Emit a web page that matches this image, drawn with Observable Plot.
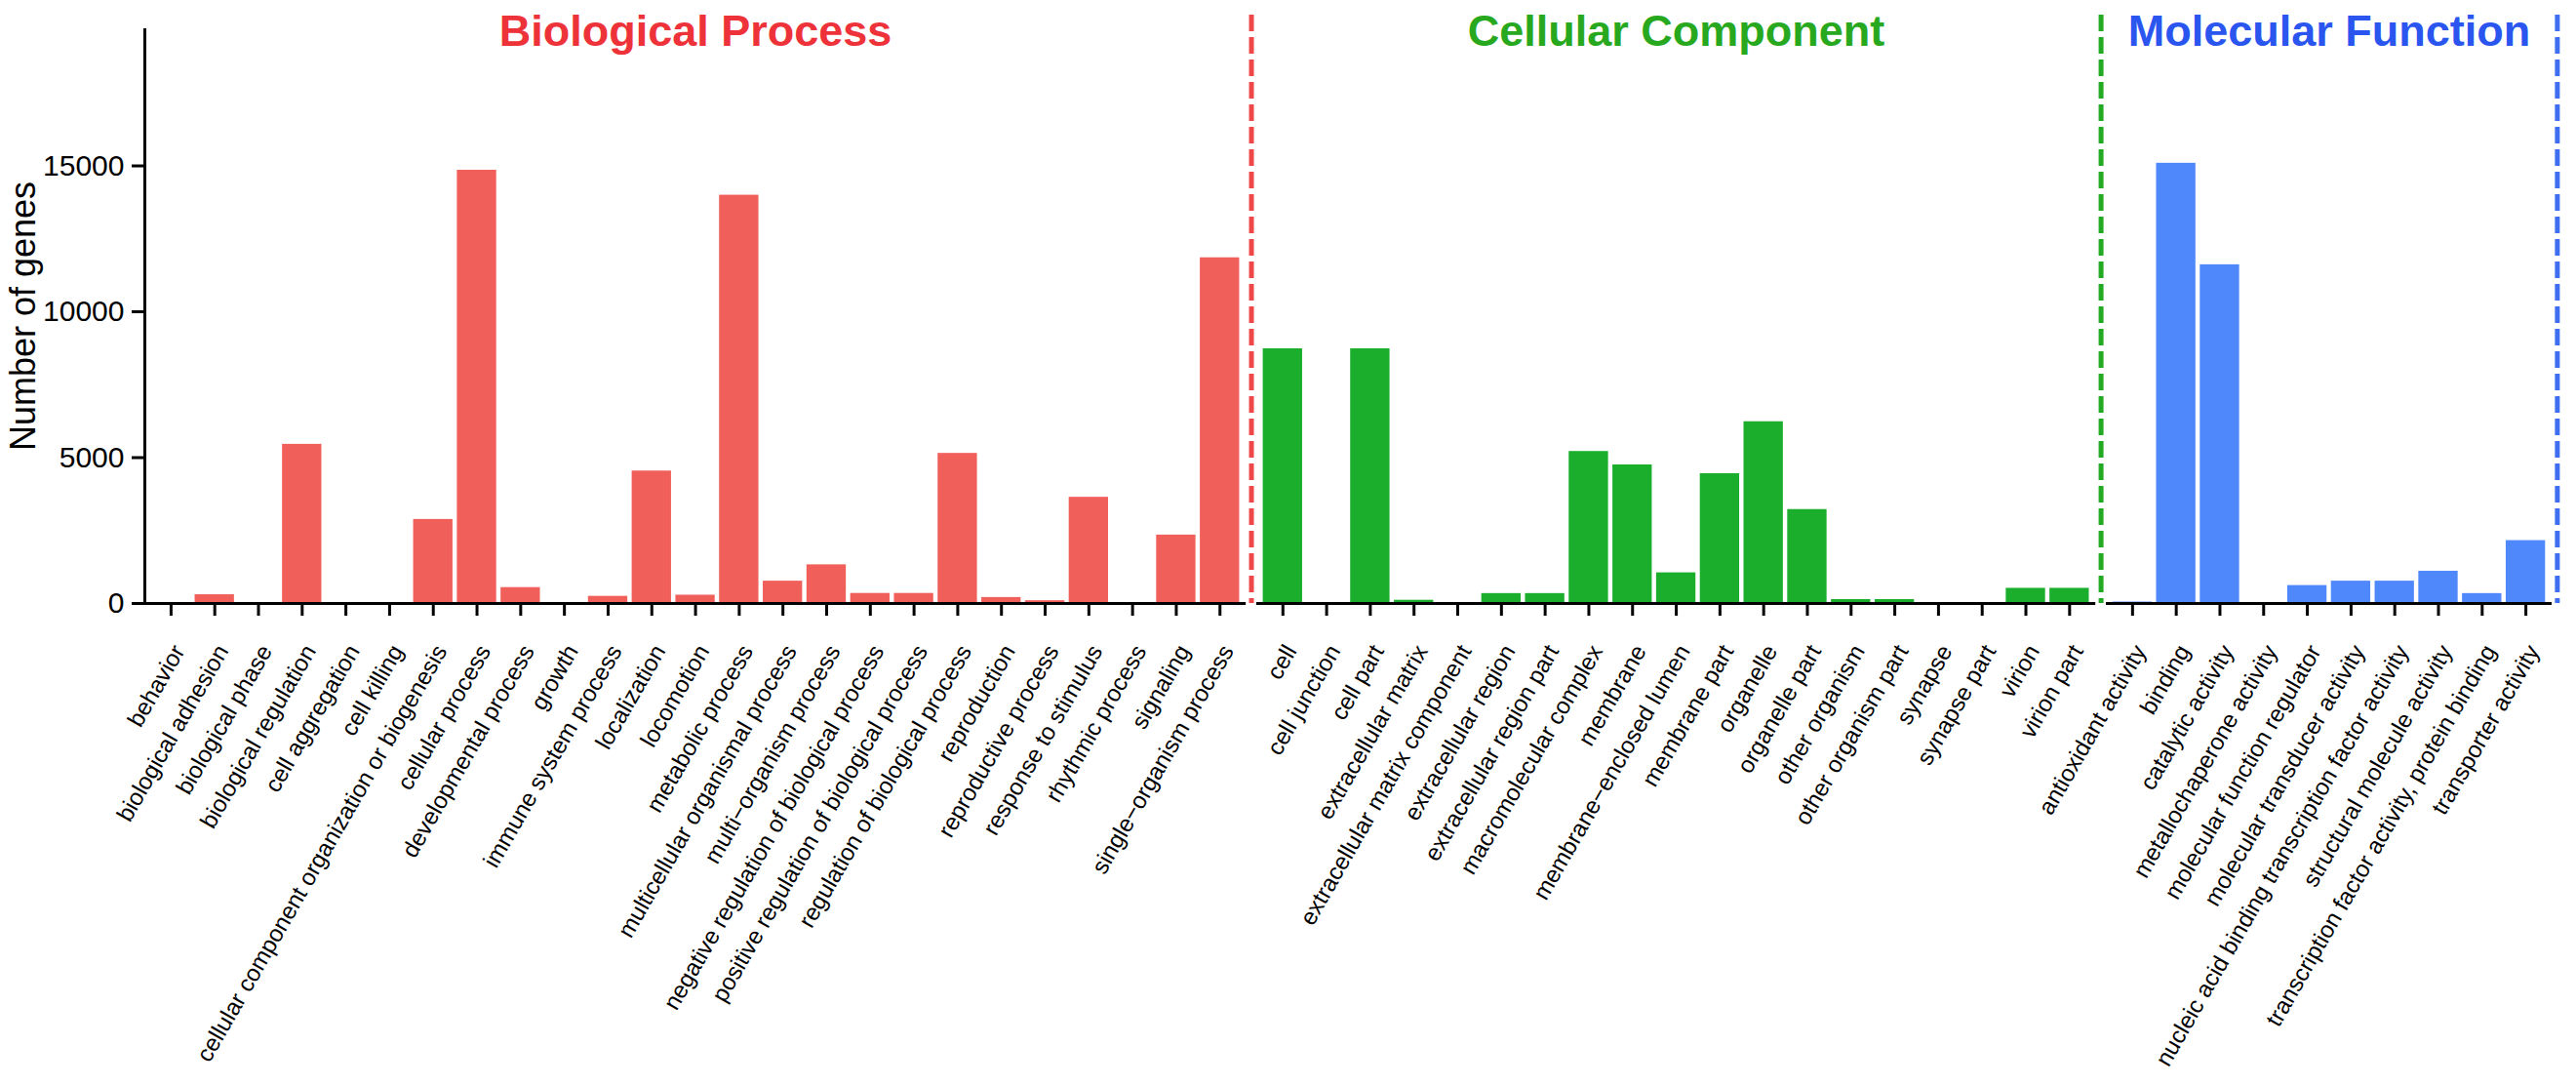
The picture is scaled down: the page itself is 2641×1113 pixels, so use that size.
<!DOCTYPE html>
<html><head><meta charset="utf-8">
<script src="https://cdn.jsdelivr.net/npm/d3@7"></script>
<script src="https://cdn.jsdelivr.net/npm/@observablehq/plot@0.6"></script>
<style>
html,body{margin:0;padding:0;background:#fff;}
#chart{width:2641px;height:1113px;overflow:hidden;}
</style></head><body><div id="chart"></div>
<script>
// ---- data ----
const bpNames = ["behavior","biological adhesion","biological phase","biological regulation","cell aggregation","cell killing","cellular component organization or biogenesis","cellular process","developmental process","growth","immune system process","localization","locomotion","metabolic process","multicellular organismal process","multi\u2212organism process","negative regulation of biological process","positive regulation of biological process","regulation of biological process","reproduction","reproductive process","response to stimulus","rhythmic process","signaling","single\u2212organism process"];
const bpValues = [10,300,10,5455,5,10,2880,14850,545,15,245,4540,285,13995,765,1325,345,345,5145,205,95,3640,10,2345,11850];
const ccNames = ["cell","cell junction","cell part","extracellular matrix","extracellular matrix component","extracellular region","extracellular region part","macromolecular complex","membrane","membrane\u2212enclosed lumen","membrane part","organelle","organelle part","other organism","other organism part","synapse","synapse part","virion","virion part"];
const ccValues = [8730,10,8730,110,5,340,340,5210,4750,1050,4450,6230,3220,135,135,5,5,520,520];
const mfNames = ["antioxidant activity","binding","catalytic activity","metallochaperone activity","molecular function regulator","molecular transducer activity","nucleic acid binding transcription factor activity","structural molecule activity","transcription factor activity, protein binding","transporter activity"];
const mfValues = [50,15090,11610,5,615,765,765,1105,340,2155];
const groupTitles = ["Biological Process","Cellular Component","Molecular Function"];
const yTicks = [0,5000,10000,15000];
const yLabel = "Number of genes";

// ---- styles ----
const barColors = ["#F15F5B","#1AAE2C","#4F88FB"];
const titleColors = ["#EE3239","#28A81E","#2A55EF"];
const lineColors = ["#EF4848","#22AA22","#3F6FF0"];
const yMax = 19700;
const PAD = 0.6, GAP = 0.24, HALF = 0.45;
const font = "'Liberation Sans', Arial, Helvetica, sans-serif";

// ---- layout table built from the arrays ----
const groups = [[bpNames,bpValues],[ccNames,ccValues],[mfNames,mfValues]];
const bars = [], panels = [];
let start = -PAD;
groups.forEach(([names, values], g) => {
  const first = start + PAD;
  names.forEach((name, i) => bars.push({name, value: values[i], pos: first + i, g}));
  const end = first + names.length - 1 + PAD;
  panels.push({g, start, end, mid: (start + end) / 2, title: groupTitles[g], sep: end + GAP / 2});
  start = end + GAP;
});
const labelAt = new Map(bars.map(d => [d.pos, d.name]));

const chart = Plot.plot({
  width: 2641, height: 1113,
  marginLeft: 148, marginRight: 25, marginTop: 29, marginBottom: 495,
  style: {fontFamily: font, background: "#fff", color: "#000", overflow: "visible"},
  x: {domain: [-PAD, panels[panels.length - 1].end], axis: null},
  y: {domain: [0, yMax], axis: null},
  marks: [
    Plot.rect(bars, {x1: d => d.pos - HALF, x2: d => d.pos + HALF, y1: () => 0, y2: "value", fill: d => barColors[d.g]}),
    Plot.ruleX(panels, {x: "sep", stroke: d => lineColors[d.g], strokeWidth: 5, strokeDasharray: "17,6", insetTop: -14}),
    Plot.ruleY(panels, {y: () => 0, x1: "start", x2: "end", stroke: "#000", strokeWidth: 3}),
    Plot.ruleX([-PAD], {y1: 0, y2: yMax, stroke: "#000", strokeWidth: 3}),
    Plot.axisY({ticks: yTicks, tickFormat: d => String(d), tickSize: 13, tickPadding: 8, fontSize: 30, strokeWidth: 3, label: null}),
    Plot.axisX({ticks: bars.map(d => d.pos), tickFormat: d => labelAt.get(d), tickSize: 13, tickPadding: 27,
      tickRotate: -60, textAnchor: "end", lineAnchor: "top", fontSize: 24, strokeWidth: 3, label: null}),
    Plot.text([yLabel], {text: d => d, frameAnchor: "left", rotate: -90, dx: -138, textAnchor: "middle", lineAnchor: "top", fontSize: 36}),
    Plot.text(panels, {x: "mid", frameAnchor: "top", text: "title", fill: d => titleColors[d.g],
      fontSize: 45, fontWeight: "bold", lineAnchor: "bottom", dy: 17})
  ]
});
document.getElementById("chart").appendChild(chart);
</script>
</body></html>
